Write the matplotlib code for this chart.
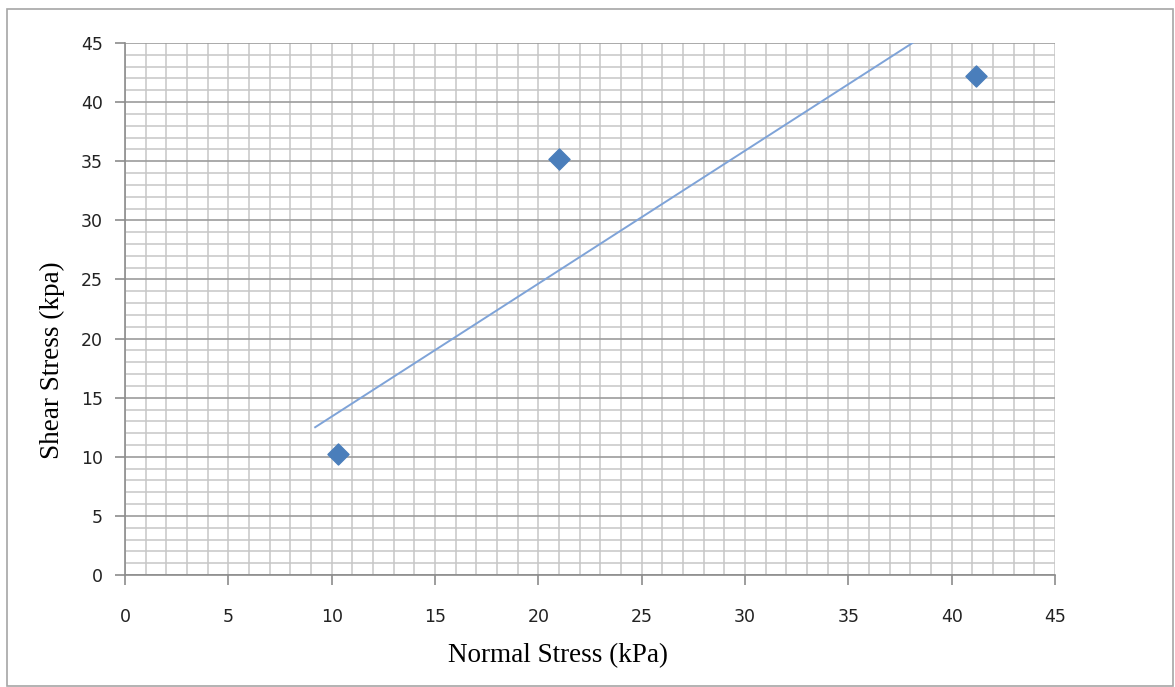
import numpy as np
import matplotlib
matplotlib.use('Agg')
from matplotlib import pyplot as plt
from matplotlib.patches import Rectangle
from matplotlib.ticker import MultipleLocator

# data
normal_stress = [10.3, 21.0, 41.2]
shear_stress = [10.2, 35.2, 42.2]
# failure envelope drawn on the chart
line_x = [9.2, 38.1]
line_y = [12.5, 45.0]

fig = plt.figure(figsize=(11.75, 6.87), dpi=100)
ax = fig.add_axes([0.1064, 0.163, 0.7915, 0.7744])

# outer chart border
fig.patches.append(Rectangle((0.006, 0.002), 0.992, 0.985, transform=fig.transFigure,
                             fill=False, edgecolor='#a6a6a6', linewidth=1.2))

ax.set_xlim(0, 45)
ax.set_ylim(0, 45)
ax.xaxis.set_major_locator(MultipleLocator(5))
ax.yaxis.set_major_locator(MultipleLocator(5))
ax.xaxis.set_minor_locator(MultipleLocator(1))
ax.yaxis.set_minor_locator(MultipleLocator(1))

ax.grid(which='minor', axis='both', color='#c6c6c6', linewidth=1.1)
ax.grid(which='major', axis='x', color='#c6c6c6', linewidth=1.1)
ax.grid(which='major', axis='y', color='#9c9c9c', linewidth=1.2)
ax.set_axisbelow(True)

for s in ['top', 'right']:
    ax.spines[s].set_visible(False)
for s in ['left', 'bottom']:
    ax.spines[s].set_color('#8c8c8c')
    ax.spines[s].set_linewidth(1.2)

ax.tick_params(which='major', length=7, width=1.2, color='#8c8c8c',
               labelsize=12.5, labelcolor='#222222')
ax.tick_params(which='minor', length=0)
ax.tick_params(axis='x', pad=17)
ax.tick_params(axis='y', pad=9)

ax.plot(line_x, line_y, color='#7ea3d8', linewidth=1.4, zorder=3)
ax.scatter(normal_stress, shear_stress, marker='D', s=115, color='#4a7ebb', zorder=4)

ax.set_xlabel('Normal Stress (kPa)', family='Liberation Serif', fontsize=19.5)
ax.set_ylabel('Shear Stress (kpa)', family='Liberation Serif', fontsize=19.5)
ax.xaxis.label.set_va('center')
ax.yaxis.label.set_va('center')
ax.xaxis.set_label_coords(0.466, -0.152)
ax.yaxis.set_label_coords(-0.0785, 0.404)

fig.savefig('out.png', dpi=100)
